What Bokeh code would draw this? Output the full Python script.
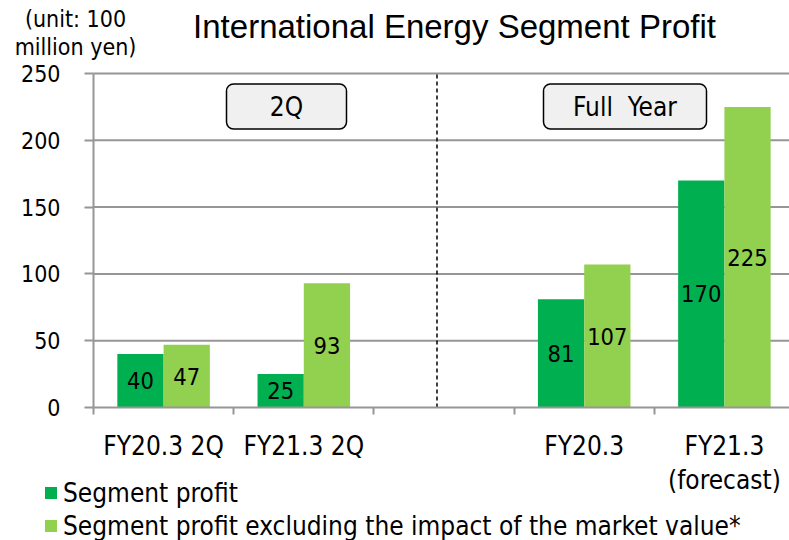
import numpy as np
from bokeh.plotting import figure
from bokeh.models import (ColumnDataSource, FixedTicker, Range1d, BoxAnnotation,
                          Label, Legend, LegendItem)
from bokeh.core.properties import value
from bokeh.transform import dodge
from bokeh.embed import file_html
from bokeh.resources import INLINE

# ---- data ----
categories = ["FY20.3 2Q", "FY21.3 2Q", "", "FY20.3", "FY21.3\n(forecast)"]
segment_profit = [40, 25, None, 81, 170]
segment_profit_excl = [47, 93, None, 107, 225]
y_ticks = [0, 50, 100, 150, 200, 250]
series_names = ["Segment profit",
                "Segment profit excluding the impact of the market value*"]
group_labels = ["2Q", "Full\u00a0 Year"]
title_text = "International Energy Segment Profit"
unit_text = "(unit: 100\nmillion yen)"

FONT = "DejaVu Sans Condensed"
DARK = "#00B050"
LIGHT = "#92D050"
GRID = "#969696"

W, H = 789, 540
SLOT = 140.2          # px per category slot
YPX = 1.336           # px per unit
X0, Y0 = 93, 407      # canvas position of the data origin

def px_to_x(px):
    return (px - X0) / SLOT

def py_to_y(py):
    return (Y0 - py) / YPX

x_end = px_to_x(W)

# positions derived from category order
idx = [i for i, c in enumerate(categories) if c]
xs = [i + 0.5 for i in idx]
src = ColumnDataSource(dict(
    x=xs,
    a=[segment_profit[i] for i in idx],
    b=[segment_profit_excl[i] for i in idx],
    a_mid=[segment_profit[i] / 2 for i in idx],
    b_mid=[segment_profit_excl[i] / 2 for i in idx],
    a_txt=[str(segment_profit[i]) for i in idx],
    b_txt=[str(segment_profit_excl[i]) for i in idx],
))

p = figure(width=W, height=H,
           x_range=Range1d(px_to_x(0), x_end),
           y_range=Range1d(py_to_y(H), py_to_y(0)),
           output_backend="svg", toolbar_location=None,
           min_border=0)
p.outline_line_color = None
p.background_fill_color = "white"
p.xgrid.visible = False
p.ygrid.visible = False

# horizontal grid lines (restricted to plot area)
p.segment(x0=[0] * (len(y_ticks) - 1), x1=[x_end] * (len(y_ticks) - 1),
          y0=y_ticks[1:], y1=y_ticks[1:], line_color=GRID, line_width=2)

bw = 0.33
r1 = p.vbar(x=dodge("x", -bw / 2, range=p.x_range), top="a", width=bw,
            source=src, fill_color=DARK, line_color=None)
r2 = p.vbar(x=dodge("x", bw / 2, range=p.x_range), top="b", width=bw,
            source=src, fill_color=LIGHT, line_color=None)

for col_y, col_t, off in (("a_mid", "a_txt", -bw / 2), ("b_mid", "b_txt", bw / 2)):
    p.text(x=dodge("x", off, range=p.x_range), y=col_y, text=col_t, source=src,
           text_align="center", text_baseline="middle", text_font=value(FONT),
           text_font_size="23.5px", text_color="black")

# separator between 2Q and full year
sep_x = 2.45
p.segment(x0=[sep_x], x1=[sep_x], y0=[0], y1=[y_ticks[-1]],
          line_color="black", line_width=1.5, line_dash="4 3")

# axes (fixed at the data origin)
yax = p.yaxis[0]
yax.fixed_location = 0
yax.bounds = (0, y_ticks[-1])
yax.ticker = FixedTicker(ticks=y_ticks)
yax.axis_line_color = GRID
yax.axis_line_width = 2
yax.major_tick_line_color = GRID
yax.major_tick_line_width = 2
yax.major_tick_out = 9
yax.major_tick_in = 0
yax.minor_tick_line_color = None
yax.major_label_standoff = 24
yax.major_label_text_font = FONT
yax.major_label_text_font_size = "23px"
yax.major_label_text_color = "black"

xax = p.xaxis[0]
xax.fixed_location = 0
xax.bounds = (0, x_end)
xax.ticker = FixedTicker(ticks=xs, minor_ticks=list(range(len(categories) + 1)))
xax.major_label_overrides = {i + 0.5: categories[i] for i in idx}
xax.axis_line_color = GRID
xax.axis_line_width = 2
xax.major_tick_line_color = None
xax.major_tick_out = 0
xax.major_tick_in = 0
xax.minor_tick_line_color = GRID
xax.minor_tick_line_width = 2
xax.minor_tick_out = 7
xax.minor_tick_in = 0
xax.major_label_standoff = 16
xax.major_label_text_font = FONT
xax.major_label_text_font_size = "26px"
xax.major_label_text_color = "black"
xax.major_label_text_line_height = 1.15

# group boxes
for (l, r), txt in zip(((226, 346), (543, 706)), group_labels):
    p.add_layout(BoxAnnotation(left=px_to_x(l), right=px_to_x(r),
                               top=py_to_y(83.5), bottom=py_to_y(128.5),
                               fill_color="#f0f0f0", fill_alpha=1,
                               line_color="black", line_alpha=1, line_width=1.5,
                               border_radius=7, level="annotation"))
    p.add_layout(Label(x=px_to_x((l + r) / 2), y=py_to_y(106), text=txt,
                       text_align="center", text_baseline="middle",
                       text_font=FONT, text_font_size="26px", text_color="black"))

# title and unit
p.add_layout(Label(x=px_to_x(454), y=py_to_y(26), text=title_text,
                   text_align="center", text_baseline="middle",
                   text_font="Liberation Sans", text_font_size="33px", text_color="black"))
p.add_layout(Label(x=px_to_x(75), y=py_to_y(32.5), text=unit_text,
                   text_align="center", text_baseline="middle", text_line_height=1.08,
                   text_font=FONT, text_font_size="23px", text_color="black"))

legend = Legend(items=[LegendItem(label=series_names[0], renderers=[r1]),
                       LegendItem(label=series_names[1], renderers=[r2])],
                location=(43, -2), orientation="vertical",
                glyph_width=15, glyph_height=15, label_standoff=5,
                label_height=33, spacing=0, padding=0, margin=0,
                border_line_color=None, background_fill_alpha=0,
                label_text_font=FONT, label_text_font_size="26px",
                label_text_color="black", label_text_baseline="middle")
p.add_layout(legend, "center")

open("out.html", "w").write(file_html(p, INLINE))
